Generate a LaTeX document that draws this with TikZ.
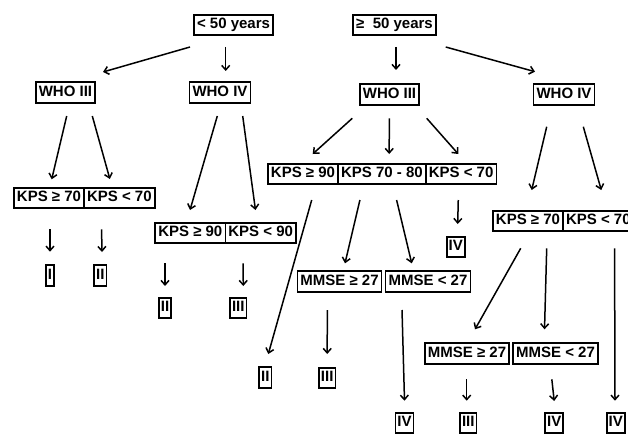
\documentclass[tikz,border=0pt]{standalone}
\usepackage{fontspec}
\setmainfont{Liberation Sans}
\usetikzlibrary{arrows.meta,positioning}

\begin{document}
\begin{tikzpicture}[
  x=1pt, y=-1pt,
  >={Straight Barb[length=4.5pt,width=8pt]},
  every node/.style={font=\fontsize{15}{18}\selectfont\bfseries},
  box/.style={draw,line width=1.7pt,inner xsep=3pt,inner ysep=3pt,outer sep=0pt,text height=11pt,text depth=3.5pt},
  leaf/.style={box,inner xsep=1.9pt},
  arr/.style={->,line width=1.5pt},
]
  \useasboundingbox (0,0) rectangle (628,433);

  % age groups
  \node[box] (young) at (233.5,25) {< 50 years};
  \node[box] (old) at (394.5,25) {≥~ 50 years};

  % WHO grades
  \node[box] (whoIIIa) at (65.5,92.5) {WHO III};
  \node[box] (whoIVa) at (220,92.5) {WHO IV};
  \node[box] (whoIIIb) at (389.5,94.5) {WHO III};
  \node[box] (whoIVb) at (564,94.5) {WHO IV};

  % KPS splits
  \node[box] (kpsA) at (49,198) {KPS ≥ 70};
  \node[box,right=0pt of kpsA] (kpsB) {KPS < 70};
  \node[box] (kpsF) at (190.3,233) {KPS ≥ 90};
  \node[box,right=0pt of kpsF] (kpsG) {KPS < 90};
  \node[box] (kpsC) at (303,174) {KPS ≥ 90};
  \node[box,right=0pt of kpsC] (kpsD) {KPS 70 - 80};
  \node[box,right=0pt of kpsD] (kpsE) {KPS < 70};
  \node[box] (kpsH) at (528,221) {KPS ≥ 70};
  \node[box,right=0pt of kpsH] (kpsI) {KPS < 70};

  % MMSE splits
  \node[box] (mmA) at (339.5,281.5) {MMSE ≥ 27};
  \node[box,right=4pt of mmA] (mmB) {MMSE < 27};
  \node[box] (mmC) at (467,353.5) {MMSE ≥ 27};
  \node[box,right=4pt of mmC] (mmD) {MMSE < 27};

  % classes
  \node[leaf] (lI) at (50,275.5) {I};
  \node[leaf] (lII) at (100.3,275.5) {II};
  \node[leaf] (lIIb) at (165,308) {II};
  \node[leaf] (lIII) at (238.3,308) {III};
  \node[leaf] (lIIc) at (265.3,377.5) {II};
  \node[leaf] (lIIIb) at (327.2,378) {III};
  \node[leaf] (lIV) at (455.8,247) {IV};
  \node[leaf] (lIVb) at (404.5,423) {IV};
  \node[leaf] (lIIIc) at (468.3,423) {III};
  \node[leaf] (lIVc) at (554.2,423) {IV};
  \node[leaf] (lIVd) at (615.8,423) {IV};

  \draw[arr] ([xshift=-43.5pt,yshift=-11.75pt]young.south) -- ([xshift=37.5pt,yshift=10.25pt]whoIIIa.north);
  \draw[arr] ([xshift=-7.8pt,yshift=-11.75pt]young.south) -- ([xshift=5.7pt,yshift=11.25pt]whoIVa.north);
  \draw[arr] ([xshift=1.5pt,yshift=-11.75pt]old.south) -- ([xshift=6.5pt,yshift=14.25pt]whoIIIb.north);
  \draw[arr] ([xshift=51.2pt,yshift=-11.75pt]old.south) -- ([xshift=-29pt,yshift=12.55pt]whoIVb.north);

  \draw[arr] ([xshift=1.2pt,yshift=-13.25pt]whoIIIa.south) -- ([xshift=2.7pt,yshift=8.45pt]kpsA.north);
  \draw[arr] ([xshift=26.8pt,yshift=-13.25pt]whoIIIa.south) -- ([xshift=-9.5pt,yshift=8.75pt]kpsB.north);
  \draw[arr] ([xshift=-2.7pt,yshift=-13.25pt]whoIVa.south) -- ([xshift=-0.3pt,yshift=12.75pt]kpsF.north);
  \draw[arr] ([xshift=22.7pt,yshift=-13.25pt]whoIVa.south) -- ([xshift=-5.2pt,yshift=12.75pt]kpsG.north);
  \draw[arr] ([xshift=-37.2pt,yshift=-13.55pt]whoIIIb.south) -- ([xshift=9.7pt,yshift=9.75pt]kpsC.north);
  \draw[arr] ([xshift=-0.2pt,yshift=-13.55pt]whoIIIb.south) -- ([xshift=7.3pt,yshift=9.75pt]kpsD.north);
  \draw[arr] ([xshift=37.2pt,yshift=-13.55pt]whoIIIb.south) -- ([xshift=-2.8pt,yshift=9.75pt]kpsE.north);
  \draw[arr] ([xshift=-17.3pt,yshift=-21.95pt]whoIVb.south) -- ([xshift=3.7pt,yshift=20.75pt]kpsH.north);
  \draw[arr] ([xshift=19.3pt,yshift=-21.95pt]whoIVb.south) -- ([xshift=2.9pt,yshift=20.75pt]kpsI.north);

  \draw[arr] ([xshift=1pt,yshift=-21.05pt]kpsA.south) -- ([yshift=13.55pt]lI.north);
  \draw[arr] ([xshift=-17.8pt,yshift=-21.05pt]kpsB.south) -- ([xshift=1.7pt,yshift=13.25pt]lII.north);
  \draw[arr] ([xshift=-25.3pt,yshift=-20.05pt]kpsF.south) -- ([yshift=11.75pt]lIIb.north);
  \draw[arr] ([xshift=-17.6pt,yshift=-20.05pt]kpsG.south) -- ([xshift=5pt,yshift=11.75pt]lIII.north);
  \draw[arr] ([xshift=8.7pt,yshift=-15.75pt]kpsC.south) -- ([xshift=3pt,yshift=13.25pt]lIIc.north);
  \draw[arr] ([xshift=-22pt,yshift=-15.75pt]kpsD.south) -- ([xshift=5.5pt,yshift=7.95pt]mmA.north);
  \draw[arr] ([xshift=14.7pt,yshift=-15.75pt]kpsD.south) -- ([xshift=-16.3pt,yshift=7.95pt]mmB.north);
  \draw[arr] ([xshift=-2.8pt,yshift=-15.75pt]kpsE.south) -- ([xshift=1.9pt,yshift=12.75pt]lIV.north);
  \draw[arr] ([xshift=-7.3pt,yshift=-17.05pt]kpsH.south) -- ([xshift=8pt,yshift=13.95pt]mmC.north);
  \draw[arr] ([xshift=18.7pt,yshift=-17.05pt]kpsH.south) -- ([xshift=-11pt,yshift=13.95pt]mmD.north);
  \draw[arr] ([xshift=16.2pt,yshift=-17.05pt]kpsI.south) -- ([xshift=-0.8pt,yshift=12.05pt]lIVd.north);

  \draw[arr] ([xshift=-12.2pt,yshift=-18.25pt]mmA.south) -- ([yshift=13.75pt]lIIIb.north);
  \draw[arr] ([xshift=-26pt,yshift=-18.25pt]mmB.south) -- ([yshift=12.05pt]lIVb.north);
  \draw[arr] ([xshift=-0.3pt,yshift=-15.55pt]mmC.south) -- ([xshift=-1.6pt,yshift=12.05pt]lIIIc.north);
  \draw[arr] ([xshift=-3.7pt,yshift=-15.55pt]mmD.south) -- ([yshift=11.75pt]lIVc.north);
\end{tikzpicture}
\end{document}
